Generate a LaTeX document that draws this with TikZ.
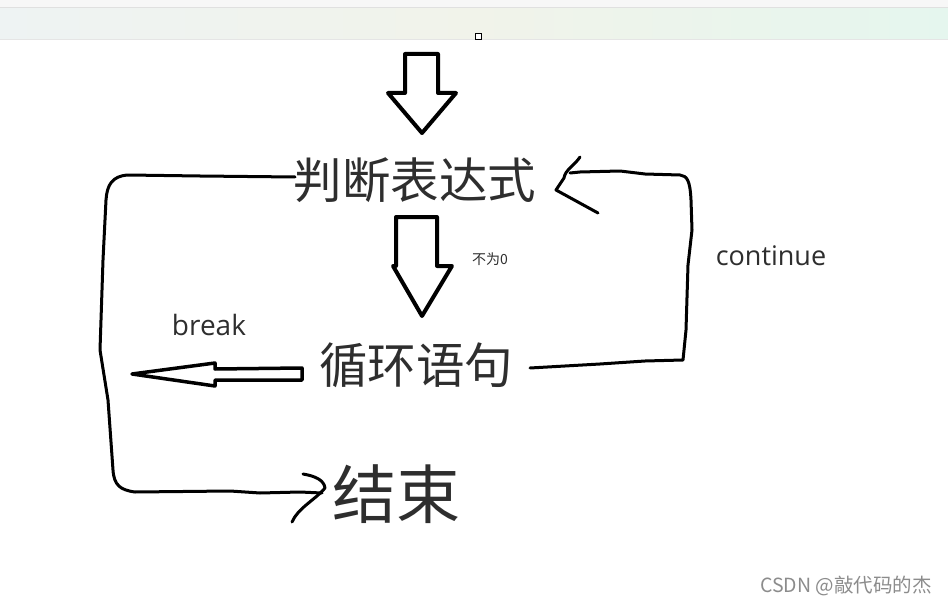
\documentclass[tikz,border=0pt]{standalone}
\usepackage{fontspec}
\setmainfont{Open Sans}
\newfontfamily\cjk{Noto Sans CJK SC}
\begin{document}
\begin{tikzpicture}[x=1pt,y=-1pt,
  txt/.style={text=black!82, inner sep=0pt},
  bigarrow/.style={draw=black, line width=4pt, line join=round, fill=white},
  hand/.style={draw=black, line width=3pt, line cap=round, line join=round},
]
\useasboundingbox (0,0) rectangle (948,607);
\fill[white] (0,0) rectangle (948,607);
% top band
\fill[black!3] (0,0) rectangle (948,7);
\shade[left color={rgb,255:red,238;green,243;blue,243}, right color={rgb,255:red,229;green,246;blue,238}, middle color={rgb,255:red,241;green,243;blue,234}] (0,8) rectangle (948,40);
\draw[black!12, line width=1.5pt] (0,7.5) -- (948,7.5);
\draw[black!10, line width=1pt] (0,40) -- (948,40);
\node[draw=black, line width=1.2pt, minimum size=6pt, inner sep=0pt, fill=white] (sq) at (478.5,36.5) {};

% texts
\node[txt, font=\cjk\fontsize{48.5}{50}\selectfont] (judge) at (415,180) {判断表达式};
\node[txt, font=\cjk\fontsize{48.5}{50}\selectfont] (loop) at (416,365) {循环语句};
\node[txt, font=\cjk\fontsize{64}{66}\selectfont] (end) at (396,494) {结束};
\node[txt, font=\cjk\fontsize{14}{16}\selectfont] (nz) at (490,259) {不为0};
\node[txt, font=\fontsize{27}{30}\selectfont] (cont) at (771,256) {continue};
\node[txt, font=\fontsize{28}{30}\selectfont] (brk) at (209,325) {break};
\node[txt, text=black!45, font=\cjk\fontsize{19.5}{21}\selectfont] (wm) at (846,586) {CSDN @敲代码的杰};

% big down arrows
\draw[bigarrow] (405,54) -- (438,54) -- (438,93) -- (456,93) -- (422,133) -- (388,93) -- (405,93) -- cycle;
\draw[bigarrow] (396,217) -- (437,217) -- (437,266) -- (452,266) -- (422,316) -- (393,266) -- (396,266) -- cycle;
% break arrow (left)
\draw[draw=black, line width=3.5pt, line join=round] (302,368) -- (302,380) -- (215,380) -- (215,386) -- (132,374) -- (215,363) -- (215,369) -- cycle;

% left loop to end
\coordinate (l1) at (295,177);
\coordinate (l2) at (322,493);
\draw[hand] (l1) -- (200,176) -- (128,175) .. controls (112,176) and (107,185) .. (106,200)
  -- (103,260) -- (100,350) -- (108,400) -- (113,470) .. controls (114,485) and (120,490) .. (135,492)
  -- (230,491) -- (260,493) -- (300,492) -- (l2);
\draw[hand] (303,474) .. controls (315,476) and (324,480) .. (325,488) .. controls (315,500) and (298,508) .. (292,522);

% right loop continue
\coordinate (r1) at (530,368);
\coordinate (r2) at (570,173);
\draw[hand] (r1) -- (600,364) -- (645,361) -- (683,360) -- (686,330) -- (688,265) -- (692,230) -- (691,200)
  .. controls (690,180) and (687,176) .. (680,175) -- (645,174) -- (620,171) -- (580,172) -- (r2);
\draw[hand] (580,157) .. controls (574,166) and (565,170) .. (564,178) -- (556,190) -- (598,213);
\end{tikzpicture}
\end{document}
